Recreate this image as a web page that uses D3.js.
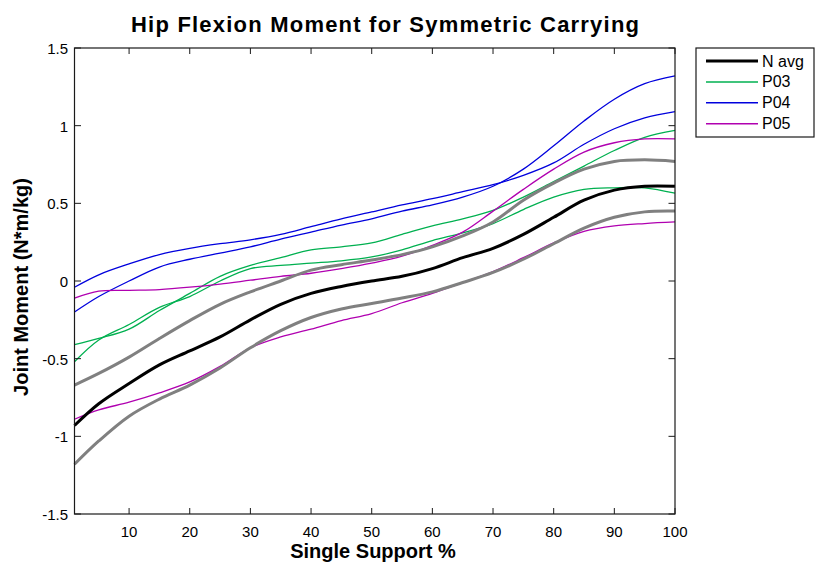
<!DOCTYPE html>
<html><head><meta charset="utf-8">
<script src="https://cdn.jsdelivr.net/npm/d3@7"></script>
<style>body{margin:0;background:#fff}svg{display:block}text{font-family:Arial,"Liberation Sans",sans-serif;fill:#000}</style>
</head><body><div id="c"></div>
<script>
const pct = [1,5,10,15,20,25,30,35,40,45,50,55,60,65,70,75,80,85,90,95,100];
const nAvg   = [-0.93,-0.79,-0.66,-0.54,-0.45,-0.36,-0.25,-0.15,-0.08,-0.035,0.00,0.03,0.08,0.15,0.21,0.30,0.41,0.52,0.585,0.61,0.61];
const nPlus  = [-0.67,-0.595,-0.49,-0.37,-0.255,-0.15,-0.07,0.00,0.07,0.105,0.135,0.17,0.22,0.29,0.38,0.52,0.63,0.72,0.77,0.78,0.77];
const nMinus = [-1.18,-1.03,-0.87,-0.76,-0.67,-0.56,-0.43,-0.32,-0.235,-0.18,-0.145,-0.11,-0.07,-0.01,0.055,0.14,0.24,0.34,0.41,0.445,0.45];
const p03a = [-0.41,-0.37,-0.31,-0.19,-0.08,0.03,0.10,0.15,0.20,0.22,0.245,0.30,0.355,0.40,0.455,0.54,0.64,0.74,0.84,0.925,0.97];
const p03b = [-0.52,-0.38,-0.28,-0.17,-0.10,0.00,0.08,0.10,0.115,0.13,0.155,0.20,0.26,0.31,0.37,0.46,0.54,0.59,0.60,0.60,0.565];
const p04a = [-0.04,0.04,0.11,0.17,0.21,0.24,0.265,0.30,0.35,0.40,0.445,0.49,0.53,0.575,0.62,0.68,0.76,0.88,0.98,1.05,1.09];
const p04b = [-0.20,-0.10,0.00,0.09,0.14,0.18,0.22,0.27,0.315,0.36,0.40,0.45,0.49,0.54,0.61,0.72,0.87,1.03,1.17,1.27,1.32];
const p05a = [-0.11,-0.065,-0.06,-0.055,-0.04,-0.02,0.005,0.03,0.05,0.08,0.115,0.16,0.23,0.315,0.45,0.59,0.72,0.83,0.89,0.915,0.915];
const p05b = [-0.89,-0.83,-0.78,-0.72,-0.65,-0.55,-0.43,-0.36,-0.31,-0.255,-0.21,-0.14,-0.08,-0.01,0.06,0.15,0.245,0.32,0.355,0.37,0.38];
const xTicks = [10,20,30,40,50,60,70,80,90,100];
const yTicks = [-1.5,-1,-0.5,0,0.5,1,1.5];
const legendNames = ["N avg","P03","P04","P05"];

const W=815,H=563;
const svg=d3.select("#c").append("svg").attr("width",W).attr("height",H);
const x=d3.scaleLinear().domain([1,100]).range([74.5,675]);
const y=d3.scaleLinear().domain([-1.5,1.5]).range([514,48]);
const ax="#1a1a1a";

const line=d3.line().x((d,i)=>x(pct[i])).y(d=>y(d)).curve(d3.curveCatmullRom.alpha(0.5));
const series=[
 {v:p03a,c:"#00b050",w:1.3},{v:p03b,c:"#00b050",w:1.3},
 {v:p04a,c:"#0000dd",w:1.3},{v:p04b,c:"#0000dd",w:1.3},
 {v:p05a,c:"#b000b0",w:1.3},{v:p05b,c:"#b000b0",w:1.3},
 {v:nPlus,c:"#808080",w:3},{v:nMinus,c:"#808080",w:3},
 {v:nAvg,c:"#000000",w:3}
];
const g=svg.append("g");
series.forEach(s=>g.append("path").attr("d",line(s.v)).attr("fill","none").attr("stroke",s.c).attr("stroke-width",s.w).attr("stroke-linejoin","round"));

// box
svg.append("rect").attr("x",74.5).attr("y",48).attr("width",675-74.5).attr("height",514-48).attr("fill","none").attr("stroke",ax).attr("stroke-width",1.2);
// ticks
xTicks.forEach(t=>{
  svg.append("line").attr("x1",x(t)).attr("x2",x(t)).attr("y1",514).attr("y2",508).attr("stroke",ax);
  svg.append("line").attr("x1",x(t)).attr("x2",x(t)).attr("y1",48).attr("y2",54).attr("stroke",ax);
  svg.append("text").attr("x",x(t)).attr("y",537).attr("text-anchor","middle").attr("font-size",15).text(t);
});
yTicks.forEach(t=>{
  svg.append("line").attr("x1",74.5).attr("x2",81).attr("y1",y(t)).attr("y2",y(t)).attr("stroke",ax);
  svg.append("line").attr("x1",675).attr("x2",668.5).attr("y1",y(t)).attr("y2",y(t)).attr("stroke",ax);
  svg.append("text").attr("x",68).attr("y",y(t)+6).attr("text-anchor","end").attr("font-size",15).text(t);
});
svg.append("text").attr("x",385).attr("y",32).attr("text-anchor","middle").attr("font-size",22).attr("font-weight","bold")
  .attr("textLength",508).attr("lengthAdjust","spacing").text("Hip Flexion Moment for Symmetric Carrying");
svg.append("text").attr("x",373).attr("y",558).attr("text-anchor","middle").attr("font-size",20).attr("font-weight","bold").text("Single Support %");
svg.append("text").attr("transform","translate(28,287) rotate(-90)").attr("text-anchor","middle").attr("font-size",20).attr("font-weight","bold").text("Joint Moment (N*m/kg)");

// legend
const lg=svg.append("g");
lg.append("rect").attr("x",696).attr("y",48).attr("width",118).attr("height",89).attr("fill","#fff").attr("stroke",ax).attr("stroke-width",1.2);
const lc=[["#000",3],["#00b050",1.5],["#0000dd",1.5],["#b000b0",1.5]];
legendNames.forEach((n,i)=>{
  const yy=61+i*20.9;
  lg.append("line").attr("x1",706).attr("x2",758).attr("y1",yy).attr("y2",yy).attr("stroke",lc[i][0]).attr("stroke-width",lc[i][1]);
  lg.append("text").attr("x",762).attr("y",yy+5.5).attr("font-size",16).text(n);
});
</script></body></html>
